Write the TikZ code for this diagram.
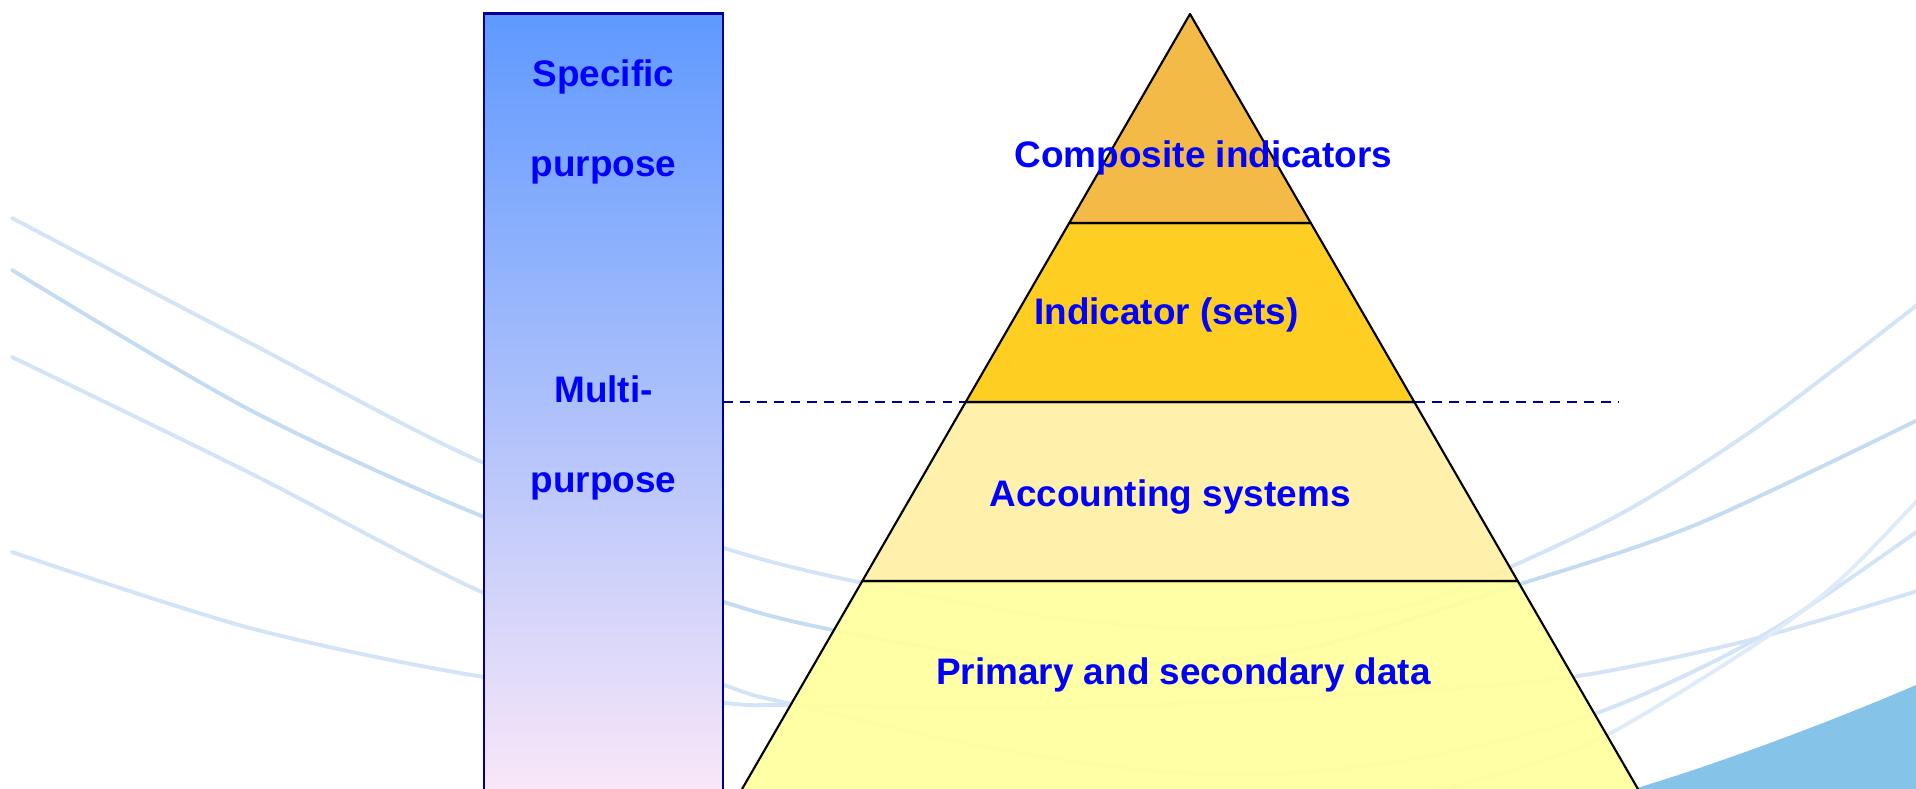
\documentclass[tikz,border=0pt]{standalone}
\usepackage{fontspec}
\setmainfont{Liberation Sans}
\usepackage{tikz}

\definecolor{swirl}{RGB}{210,228,246}
\definecolor{swirldark}{RGB}{196,220,242}
\definecolor{swirllight}{RGB}{222,235,249}
\definecolor{swoosh}{RGB}{133,195,232}
\definecolor{navy}{RGB}{0,0,150}
\definecolor{tierone}{RGB}{242,182,61}
\definecolor{tiertwo}{RGB}{254,204,22}
\definecolor{tierthree}{RGB}{255,240,168}
\definecolor{tierfour}{RGB}{255,255,160}
\definecolor{bartop}{RGB}{95,153,255}
\definecolor{barmid}{RGB}{160,202,250}
\definecolor{barbot}{RGB}{251,232,248}

\begin{document}
\begin{tikzpicture}[x=0.01cm, y=-0.01cm, node distance=0.9cm]
      \tikzstyle{swirlline}=[line width=1.1pt, line cap=round]
      \tikzstyle{tier}=[draw=black, line width=0.6pt, fill opacity=0.95, line join=round]
      \tikzstyle{lbl}=[font=\fontsize{10.5}{12}\selectfont\bfseries, text=blue,
                       text height=2.7mm, text depth=0.8mm, inner sep=0pt]
      \tikzstyle{barbox}=[draw=navy, line width=0.8pt, inner sep=0pt, outer sep=0pt,
                          minimum width=2.39cm, minimum height=7.86cm,
                          top color=bartop, middle color=barmid, bottom color=barbot]
      \tikzstyle{cutline}=[navy, line width=0.6pt, dash pattern=on 2.8pt off 2pt]

      \useasboundingbox (0,0) rectangle (1916,788);
      \clip (0,0) rectangle (1916,788);

      % swirls in the background
      \draw[swirlline, swirl] plot[smooth] coordinates {(12,218) (250,343) (484,463) (724,548)
        (863,583) (1050,617) (1230,629) (1400,608) (1510,567) (1633,507) (1767,420) (1940,287)};
      \draw[swirlline, swirldark] plot[smooth] coordinates {(12,270) (250,410) (484,517) (724,602)
        (833,630) (980,655) (1120,665) (1300,650) (1517,585) (1700,523) (1940,409)};
      \draw[swirlline, swirl] plot[smooth] coordinates {(12,357) (250,473) (484,593) (724,685)
        (787,703) (950,740) (1100,765) (1250,775) (1420,758) (1597,713) (1767,633) (1940,515)};
      \draw[swirlline, swirl] plot[smooth] coordinates {(12,552) (250,628) (484,677) (724,703)
        (787,705) (1000,708) (1200,703) (1400,692) (1572,677) (1750,640) (1940,584)};
      \draw[swirlline, swirllight] plot[smooth] coordinates {(1400,800) (1520,768) (1607,735)
        (1750,648) (1840,580) (1940,476)};
      \fill[swoosh] (1637,788) .. controls (1720,763) and (1830,722) .. (1916,685)
        -- (1916,800) -- (1637,800) -- cycle;

      % pyramid
      \coordinate (apex) at (1190,14);
      \coordinate (l1) at (1069.2,223);  \coordinate (r1) at (1310.8,223);
      \coordinate (l2) at (965.7,402);   \coordinate (r2) at (1414.3,402);
      \coordinate (l3) at (862.3,581);   \coordinate (r3) at (1517.7,581);
      \coordinate (l4) at (735.7,800);   \coordinate (r4) at (1644.3,800);
      \coordinate (cut) at (1619,402);

      \node[barbox] (bar) at (603.5,407) {};
      \draw[cutline] (bar.east |- cut) -- (cut);

      \filldraw[tier, fill=tierfour] (l3) -- (r3) -- (r4) -- (l4) -- cycle;
      \filldraw[tier, fill=tierthree] (l2) -- (r2) -- (r3) -- (l3) -- cycle;
      \filldraw[tier, fill=tiertwo] (l1) -- (r1) -- (r2) -- (l2) -- cycle;
      \filldraw[tier, fill=tierone] (apex) -- (r1) -- (l1) -- cycle;

      \node[lbl] (composite) at (1203.5,157.5) {Composite indicators};
      \node[lbl] (indicator) at (1166.5,314.5) {Indicator (sets)};
      \node[lbl] (accounting) at (1170,496.5) {Accounting systems};
      \node[lbl] (primary) at (1183.5,674.5) {Primary and secondary data};

      \node[lbl] (specific) at (603.5,76.5) {Specific};
      \node[lbl] (specpurp) [below of=specific] {purpose};
      \node[lbl] (multi) at (603.5,392.5) {Multi-};
      \node[lbl] (multipurp) [below of=multi] {purpose};
\end{tikzpicture}
\end{document}
